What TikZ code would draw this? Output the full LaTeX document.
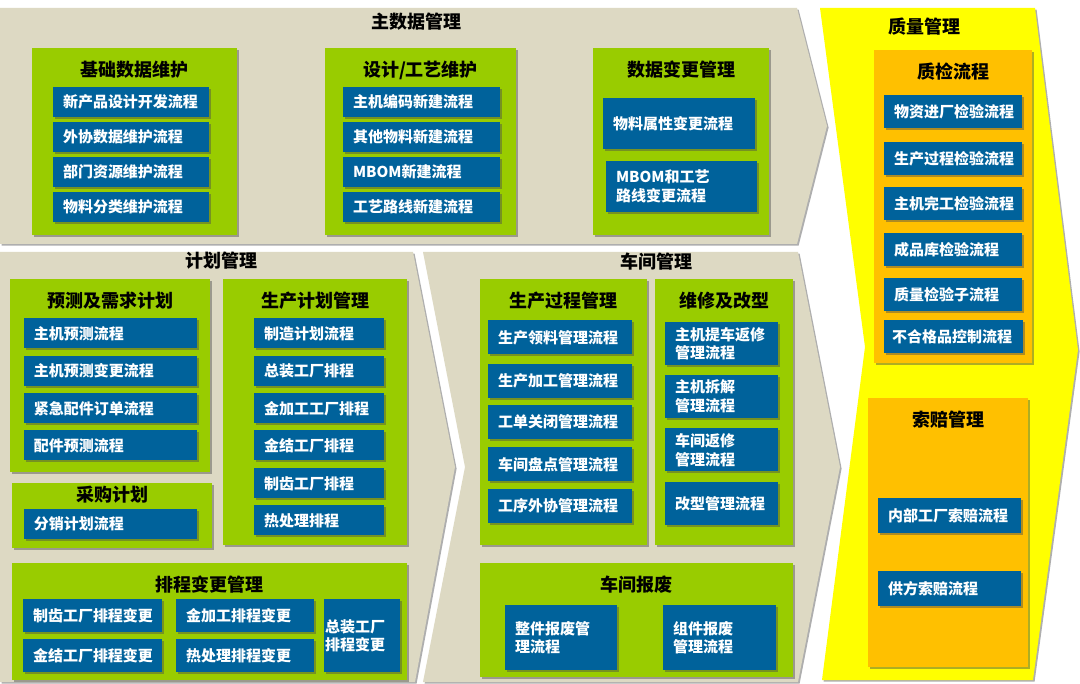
\documentclass[tikz,border=0pt]{standalone}
\usepackage{fontspec}
\setmainfont{Noto Sans CJK SC}
\usepackage{xcolor}
\usepackage{tikz}
\usetikzlibrary{positioning, shadows}
\definecolor{bandgray}{HTML}{DDD9C3}
\definecolor{grpgreen}{HTML}{99CC00}
\definecolor{procblue}{HTML}{00629B}
\definecolor{qorange}{HTML}{FFC000}
\definecolor{qyellow}{HTML}{FFFF00}

\begin{document}
\begin{tikzpicture}[x=1pt, y=-1pt,
  boxshadow/.style={drop shadow={shadow xshift=1.6pt, shadow yshift=-1.6pt, fill=black!70, opacity=.45}},
  grp/.style={fill=grpgreen, boxshadow, inner sep=0pt},
  qgrp/.style={fill=qorange, boxshadow, inner sep=0pt},
  grptitle/.style={font=\fontsize{18}{20}\selectfont\bfseries, inner sep=0pt},
  bandtitle/.style={font=\fontsize{18}{20}\selectfont\bfseries, inner sep=0pt},
  proc/.style={fill=procblue, text=white, boxshadow, inner xsep=10pt, inner ysep=0pt,
               text width=#1, align=left, font=\fontsize{15}{18.5}\selectfont\bfseries}]
  \useasboundingbox (0,0) rectangle (1080,684);
  \fill[white] (0,0) rectangle (1080,684);

  \fill[bandgray, boxshadow] (0,8) -- (797,8) -- (827,126) -- (797,244) -- (0,244) -- cycle;
  \fill[bandgray, boxshadow] (0,252) -- (413,252) -- (455,467) -- (415,682) -- (0,682) -- cycle;
  \fill[bandgray, boxshadow] (423,252) -- (798,252) -- (840,467) -- (798,682) -- (423,682) -- (465,467) -- cycle;
  \fill[qyellow, boxshadow] (820,8) -- (1035,8) -- (1078,350) -- (1033,680) -- (822,680) -- (865,347) -- cycle;

  \node[bandtitle] (zsj) at (416,22) {主数据管理};
  \node[bandtitle] (jhgl) at (221,261) {计划管理};
  \node[bandtitle] (cjgl) at (656,262) {车间管理};
  \node[bandtitle] (zlgl) at (924,27) {质量管理};

  \node[grp, minimum width=205pt, minimum height=187pt] (jichu) at (134.5,141.5) {};
  \node[grptitle, below=13pt of jichu.north] (jichuT) {基础数据维护};
  \node[proc=136pt, minimum height=30pt] (jichuA) at (131,102) {新产品设计开发流程};
  \node[proc=136pt, minimum height=30pt] (jichuB) at (131,137) {外协数据维护流程};
  \node[proc=136pt, minimum height=30pt] (jichuC) at (131,172) {部门资源维护流程};
  \node[proc=136pt, minimum height=30pt] (jichuD) at (131,207) {物料分类维护流程};

  \node[grp, minimum width=191pt, minimum height=187pt] (sheji) at (420.5,141.5) {};
  \node[grptitle, below=13pt of sheji.north] (shejiT) {设计/工艺维护};
  \node[proc=137pt, minimum height=30pt] (shejiA) at (421.5,102) {主机编码新建流程};
  \node[proc=137pt, minimum height=30pt] (shejiB) at (421.5,137) {其他物料新建流程};
  \node[proc=137pt, minimum height=30pt] (shejiC) at (421.5,172) {MBOM新建流程};
  \node[proc=137pt, minimum height=30pt] (shejiD) at (421.5,207) {工艺路线新建流程};

  \node[grp, minimum width=176pt, minimum height=187pt] (biangeng) at (681,141.5) {};
  \node[grptitle, below=13pt of biangeng.north] (biangengT) {数据变更管理};
  \node[proc=132pt, minimum height=51pt] (biangengA) at (679,123.5) {物料属性变更流程};
  \node[proc=131pt, minimum height=51pt] (biangengB) at (681.5,186.5) {MBOM和工艺\\路线变更流程};

  \node[grp, minimum width=200pt, minimum height=193pt] (yuce) at (110,375.5) {};
  \node[grptitle, below=13pt of yuce.north] (yuceT) {预测及需求计划};
  \node[proc=153pt, minimum height=30pt] (yuceA) at (110.5,333.5) {主机预测流程};
  \node[proc=153pt, minimum height=30pt] (yuceB) at (110.5,371) {主机预测变更流程};
  \node[proc=153pt, minimum height=30pt] (yuceC) at (110.5,408.5) {紧急配件订单流程};
  \node[proc=153pt, minimum height=30pt] (yuceD) at (110.5,445.5) {配件预测流程};

  \node[grp, minimum width=200pt, minimum height=65pt] (caigou) at (112,515.5) {};
  \node[grptitle, below=3pt of caigou.north] (caigouT) {采购计划};
  \node[proc=153pt, minimum height=30pt] (caigouA) at (110.5,524) {分销计划流程};

  \node[grp, minimum width=184pt, minimum height=266pt] (shengchan) at (315,412) {};
  \node[grptitle, below=13pt of shengchan.north] (shengchanT) {生产计划管理};
  \node[proc=110pt, minimum height=30pt] (shengchanA) at (319,333.5) {制造计划流程};
  \node[proc=110pt, minimum height=30pt] (shengchanB) at (319,371) {总装工厂排程};
  \node[proc=110pt, minimum height=30pt] (shengchanC) at (319,408.5) {金加工工厂排程};
  \node[proc=110pt, minimum height=30pt] (shengchanD) at (319,445.5) {金结工厂排程};
  \node[proc=110pt, minimum height=30pt] (shengchanE) at (319,483.5) {制齿工厂排程};
  \node[proc=110pt, minimum height=30pt] (shengchanF) at (319,520.5) {热处理排程};

  \node[grp, minimum width=395pt, minimum height=117pt] (paicheng) at (209.5,621.5) {};
  \node[grptitle, below=13pt of paicheng.north] (paichengT) {排程变更管理};
  \node[proc=119pt, minimum height=33pt] (paichengA) at (92.5,615.5) {制齿工厂排程变更};
  \node[proc=119pt, minimum height=33pt] (paichengB) at (92.5,655.5) {金结工厂排程变更};
  \node[proc=118pt, minimum height=33pt] (paichengC) at (245,615.5) {金加工排程变更};
  \node[proc=118pt, minimum height=33pt] (paichengD) at (245,655.5) {热处理排程变更};
  \node[proc=74pt, inner xsep=1pt, minimum height=73pt, font=\fontsize{15}{17.7}\selectfont\bfseries]
    (paichengE) at (362,635.5) {总装工厂\\排程变更};

  \node[grp, minimum width=167pt, minimum height=266pt] (guocheng) at (563.5,412) {};
  \node[grptitle, below=13pt of guocheng.north] (guochengT) {生产过程管理};
  \node[proc=124pt, minimum height=34pt] (guochengA) at (560,337.5) {生产领料管理流程};
  \node[proc=124pt, minimum height=34pt] (guochengB) at (560,381) {生产加工管理流程};
  \node[proc=124pt, minimum height=34pt] (guochengC) at (560,422) {工单关闭管理流程};
  \node[proc=124pt, minimum height=34pt] (guochengD) at (560,464.5) {车间盘点管理流程};
  \node[proc=124pt, minimum height=34pt] (guochengE) at (560,506) {工序外协管理流程};

  \node[grp, minimum width=138pt, minimum height=266pt] (weixiu) at (724,412) {};
  \node[grptitle, below=13pt of weixiu.north] (weixiuT) {维修及改型};
  \node[proc=93pt, minimum height=43pt] (weixiuA) at (721.5,343.5) {主机提车返修\\管理流程};
  \node[proc=93pt, minimum height=43pt] (weixiuB) at (721.5,396.5) {主机拆解\\管理流程};
  \node[proc=93pt, minimum height=43pt] (weixiuC) at (721.5,450) {车间返修\\管理流程};
  \node[proc=93pt, minimum height=43pt] (weixiuD) at (721.5,503.5) {改型管理流程};

  \node[grp, minimum width=313pt, minimum height=114pt] (baofei) at (636.5,620) {};
  \node[grptitle, below=13pt of baofei.north] (baofeiT) {车间报废};
  \node[proc=92pt, minimum height=65pt] (baofeiA) at (561,637.5) {整件报废管\\理流程};
  \node[proc=93pt, minimum height=65pt] (baofeiB) at (719.5,637.5) {组件报废\\管理流程};

  \node[qgrp, minimum width=158pt, minimum height=313pt] (zhijian) at (953,206.5) {};
  \node[grptitle, below=13pt of zhijian.north] (zhijianT) {质检流程};
  \node[proc=118pt, minimum height=33pt] (zhijianA) at (953,111.5) {物资进厂检验流程};
  \node[proc=118pt, minimum height=33pt] (zhijianB) at (953,158.5) {生产过程检验流程};
  \node[proc=118pt, minimum height=33pt] (zhijianC) at (953,204) {主机完工检验流程};
  \node[proc=118pt, minimum height=33pt] (zhijianD) at (953,250) {成品库检验流程};
  \node[proc=118pt, minimum height=33pt] (zhijianE) at (953,295) {质量检验子流程};
  \node[proc=123pt, minimum height=33pt, inner xsep=8pt] (zhijianF) at (953.5,336.5) {不合格品控制流程};

  \node[qgrp, minimum width=160pt, minimum height=269pt] (suopei) at (948,532.5) {};
  \node[grptitle, below=13pt of suopei.north] (suopeiT) {索赔管理};
  \node[proc=123pt, minimum height=35pt] (suopeiA) at (949.5,515.5) {内部工厂索赔流程};
  \node[proc=123pt, minimum height=35pt] (suopeiB) at (949.5,588.5) {供方索赔流程};
\end{tikzpicture}
\end{document}
